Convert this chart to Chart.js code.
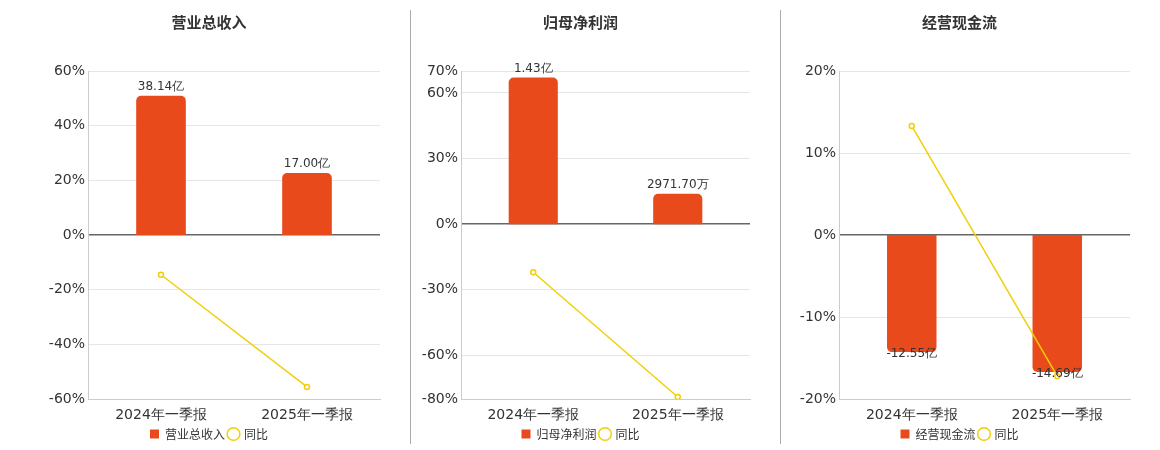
<!DOCTYPE html>
<html><head><meta charset="utf-8">
<script src="https://cdn.jsdelivr.net/npm/chart.js@4"></script>
<style>
body{margin:0;background:#fff;font-family:"Noto Sans CJK SC","DejaVu Sans",sans-serif;}
.p{position:absolute;top:0;height:450px;}
.sep{position:absolute;top:10px;height:434px;width:1px;background:#aaa;}
</style></head><body>
<div class="p" style="left:0;width:405px"><canvas id="c1"></canvas></div>
<div class="sep" style="left:410px"></div>
<div class="p" style="left:411px;width:365px"><canvas id="c2"></canvas></div>
<div class="sep" style="left:780px"></div>
<div class="p" style="left:781px;width:379px"><canvas id="c3"></canvas></div>
<script>
const categories = ['2024年一季报', '2025年一季报'];
// bar values (raw) and their labels
const revenue = [38.14, 17.00];            // 亿
const revenueLabels = ['38.14亿', '17.00亿'];
const revenueYoY = [-14.5, -55.5];          // %
const profit = [14300, 2971.70];            // 万
const profitLabels = ['1.43亿', '2971.70万'];
const profitYoY = [-22, -79];
const cashflow = [-12.55, -14.69];          // 亿
const cashflowLabels = ['-12.55亿', '-14.69亿'];
const cashflowYoY = [13.3, -17.2];

const ticks1 = [-60, -40, -20, 0, 20, 40, 60];
const ticks2 = [-80, -60, -30, 0, 30, 60, 70];
const ticks3 = [-20, -10, 0, 10, 20];

const BAR = '#E84A1B', LINE = '#F0CF0A';

const labelPlugin = {
  id: 'barLabels',
  afterDatasetsDraw(chart) {
    const ctx = chart.ctx, labels = chart.options.plugins.barLabels.labels;
    chart.getDatasetMeta(0).data.forEach((el, i) => {
      const neg = chart.data.datasets[0].data[i] < 0;
      ctx.save();
      ctx.font = '12px "DejaVu Sans"';
      ctx.fillStyle = '#333';
      ctx.textAlign = 'center';
      ctx.textBaseline = neg ? 'top' : 'bottom';
      ctx.fillText(labels[i], el.x, neg ? el.y - 4 : el.y - 3);
      ctx.restore();
    });
  }
};

function makeChart(id, title, barName, bars, labels, yoy, ticks, barMin, barMax, padL, padR) {
  const min = ticks[0], max = ticks[ticks.length - 1];
  new Chart(document.getElementById(id), {
    type: 'bar',
    data: {
      labels: categories,
      datasets: [{
        label: barName, data: bars, backgroundColor: BAR, yAxisID: 'yb',
        borderRadius: 5, borderSkipped: 'start', barPercentage: 0.34, categoryPercentage: 1,
        pointStyle: 'rect', order: 2
      }, {
        type: 'line', label: '同比', data: yoy, yAxisID: 'y', borderColor: LINE,
        borderWidth: 1.5, pointRadius: 2.5, pointBackgroundColor: '#fff',
        pointBorderColor: LINE, pointBorderWidth: 1.5, pointStyle: 'circle', order: 1
      }]
    },
    options: {
      responsive: true, maintainAspectRatio: false, animation: false,
      layout: { padding: { left: padL, right: padR, top: 0, bottom: 0 } },
      scales: {
        x: {
          grid: { display: false },
          border: { color: '#ccc' },
          ticks: { color: '#333', font: { size: 14, family: '"DejaVu Sans"' }, padding: 0 }
        },
        y: {
          min, max,
          afterBuildTicks: s => { s.ticks = ticks.map(v => ({ value: v })); },
          afterFit: s => { s.width = 50; },
          ticks: { color: '#333', font: { size: 14, family: '"DejaVu Sans"' }, callback: v => v + '%', autoSkip: false },
          grid: { color: c => c.tick.value === 0 ? '#666' : '#e6e6e6', lineWidth: c => c.tick.value === 0 ? 1.5 : 1, drawTicks: false },
          border: { color: '#ccc' }
        },
        yb: { display: false, min: barMin, max: barMax }
      },
      plugins: {
        title: { display: true, text: title, color: '#333', font: { size: 15, weight: 'bold', family: '"Noto Sans CJK SC"' }, padding: { top: 13, bottom: 40 } },
        legend: {
          position: 'bottom',
          labels: {
            usePointStyle: true, boxWidth: 9, boxHeight: 9, padding: 4, color: '#333',
            font: { size: 12, family: '"Noto Sans CJK SC"' },
            sort: (a, b) => a.datasetIndex - b.datasetIndex
          }
        },
        tooltip: { enabled: false },
        barLabels: { labels }
      }
    },
    plugins: [labelPlugin]
  });
}

makeChart('c1', '营业总收入', '营业总收入', revenue, revenueLabels, revenueYoY, ticks1, -44.9, 44.9, 38, 25);
makeChart('c2', '归母净利润', '归母净利润', profit, profitLabels, profitYoY, ticks2, -17075, 14940, 0, 26);
makeChart('c3', '经营现金流', '经营现金流', cashflow, cashflowLabels, cashflowYoY, ticks3, -17.6, 17.6, 8, 30);
</script>
</body></html>
